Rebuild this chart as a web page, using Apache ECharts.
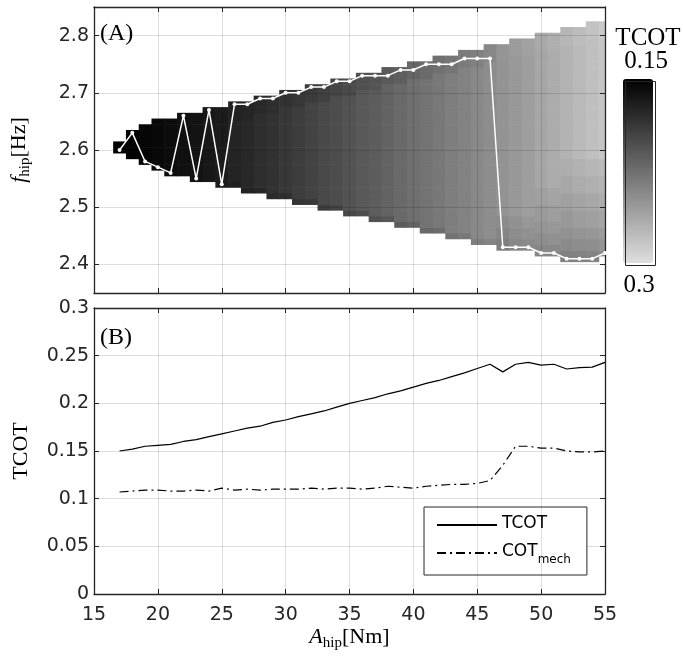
<!DOCTYPE html>
<html><head><meta charset="utf-8">
<script src="https://cdn.jsdelivr.net/npm/echarts@6/dist/echarts.min.js"></script>
<style>html,body{margin:0;padding:0;background:#fff}#c{width:683px;height:663px}</style>
</head><body><div id="c"></div>
<script>
// ---- data ----
const aHip = [17,18,19,20,21,22,23,24,25,26,27,28,29,30,31,32,33,34,35,36,37,38,39,40,41,42,43,44,45,46,47,48,49,50,51,52,53,54,55];
// optimal hip frequency (white line, panel A)
const fOpt = [2.60,2.63,2.58,2.57,2.56,2.66,2.55,2.67,2.54,2.68,2.68,2.69,2.69,2.70,2.70,2.71,2.71,2.72,2.72,2.73,2.73,2.73,2.74,2.74,2.75,2.75,2.75,2.76,2.76,2.76,2.43,2.43,2.43,2.42,2.42,2.41,2.41,2.41,2.42];
// panel B
const tcotMin = [0.150,0.152,0.155,0.156,0.157,0.160,0.162,0.165,0.168,0.171,0.174,0.176,0.180,0.1825,0.186,0.189,0.192,0.196,0.200,0.203,0.206,0.210,0.213,0.217,0.221,0.224,0.228,0.232,0.2365,0.241,0.233,0.241,0.243,0.240,0.241,0.236,0.2375,0.238,0.243];
const cotMech = [0.107,0.108,0.109,0.109,0.108,0.108,0.109,0.108,0.111,0.109,0.110,0.109,0.110,0.110,0.110,0.111,0.110,0.111,0.111,0.110,0.111,0.113,0.112,0.111,0.113,0.114,0.115,0.115,0.116,0.119,0.135,0.155,0.155,0.153,0.153,0.150,0.149,0.149,0.150];
// feasible frequency range per column (cell centres, Hz)
const fLow  = [2.60,2.59,2.58,2.57,2.56,2.56,2.55,2.55,2.54,2.54,2.53,2.53,2.52,2.52,2.51,2.51,2.50,2.50,2.49,2.49,2.48,2.48,2.47,2.47,2.46,2.46,2.45,2.45,2.44,2.44,2.43,2.43,2.43,2.42,2.42,2.41,2.41,2.41,2.42];
const fHigh = [2.61,2.63,2.64,2.65,2.65,2.66,2.66,2.67,2.67,2.68,2.68,2.69,2.69,2.70,2.70,2.71,2.71,2.72,2.72,2.73,2.73,2.74,2.74,2.75,2.75,2.76,2.76,2.77,2.77,2.78,2.78,2.79,2.79,2.80,2.80,2.81,2.81,2.82,2.82];
// TCOT per column, bottom to top: [cells, value]; 0 cells = rest of the column
const cellRuns = [
  [[0,0.150]],
  [[0,0.152]],
  [[0,0.154]],
  [[0,0.156]],
  [[0,0.158]],
  [[0,0.161]],
  [[0,0.163]],
  [[0,0.166]],
  [[0,0.169]],
  [[1,0.171],[0,0.174],[3,0.172]],
  [[1,0.173],[0,0.177],[3,0.175]],
  [[1,0.176],[0,0.181],[3,0.178]],
  [[1,0.179],[0,0.184],[3,0.181]],
  [[1,0.182],[0,0.188],[3,0.184]],
  [[1,0.185],[0,0.191],[3,0.187]],
  [[1,0.188],[0,0.195],[3,0.190]],
  [[1,0.191],[0,0.199],[3,0.194]],
  [[1,0.195],[0,0.202],[3,0.197]],
  [[1,0.198],[0,0.206],[3,0.201]],
  [[1,0.202],[0,0.210],[3,0.204]],
  [[1,0.205],[0,0.213],[3,0.207]],
  [[1,0.209],[0,0.217],[3,0.211]],
  [[1,0.212],[0,0.221],[3,0.214]],
  [[1,0.216],[0,0.225],[3,0.218]],
  [[1,0.220],[0,0.228],[3,0.222]],
  [[1,0.223],[0,0.231],[3,0.226]],
  [[1,0.227],[0,0.235],[3,0.229]],
  [[1,0.231],[0,0.238],[3,0.233]],
  [[1,0.235],[0,0.242],[3,0.237]],
  [[1,0.239],[0,0.245],[3,0.241]],
  [[2,0.235],[2,0.240],[2,0.244],[0,0.249],[3,0.251]],
  [[2,0.242],[2,0.245],[2,0.248],[0,0.253],[3,0.255]],
  [[2,0.244],[2,0.248],[2,0.252],[0,0.257],[3,0.259]],
  [[2,0.241],[2,0.246],[2,0.250],[3,0.254],[3,0.258],[0,0.262],[3,0.264]],
  [[2,0.242],[2,0.248],[2,0.252],[3,0.257],[3,0.261],[0,0.266],[3,0.268]],
  [[2,0.237],[2,0.243],[2,0.248],[3,0.253],[3,0.258],[3,0.263],[3,0.267],[0,0.271],[3,0.273]],
  [[2,0.238],[2,0.245],[2,0.250],[3,0.256],[3,0.261],[3,0.266],[3,0.270],[0,0.275],[3,0.277]],
  [[2,0.239],[2,0.246],[2,0.252],[3,0.258],[3,0.263],[3,0.268],[3,0.273],[0,0.279],[3,0.281]],
  [[1,0.243],[2,0.249],[2,0.255],[3,0.261],[3,0.266],[3,0.271],[3,0.276],[0,0.283],[3,0.286]]
];
const colorbarLabels = ['TCOT', '0.15', '0.3'];

// ---- build heatmap cells ----
const cells = [];
aHip.forEach((a, i) => {
  const lo = fLow[i], hi = fHigh[i];
  const n = Math.round((hi - lo) / 0.01) + 1;
  const runs = cellRuns[i];
  const fixed = runs.reduce((s, r) => s + r[0], 0);
  let k = 0;
  runs.forEach(r => {
    const cnt = r[0] === 0 ? Math.max(0, n - fixed) : r[0];
    for (let j = 0; j < cnt && k < n; j++) {
      cells.push([a, +(lo + k * 0.01).toFixed(2), r[1]]);
      k++;
    }
  });
});

const AX = '#262626';
const GRIDC = 'rgba(0,0,0,0.13)';
const tickFont = { fontFamily: 'DejaVu Sans', fontSize: 19, color: AX };
const serif = 'Liberation Serif';

function mainX(gi, showLabels, extra) {
  return Object.assign({
    gridIndex: gi, type: 'value', min: 15, max: 55, interval: 5, position: 'bottom',
    axisLine: { show: true, onZero: false, lineStyle: { color: AX, width: 1.3 } },
    axisTick: { show: true, inside: true, length: 5, lineStyle: { color: AX } },
    axisLabel: Object.assign({ show: showLabels, margin: 12 }, tickFont),
    splitLine: { show: true, lineStyle: { color: GRIDC, width: 1 } },
    z: 5
  }, extra || {});
}
function secX(gi) {
  return {
    gridIndex: gi, type: 'value', min: 15, max: 55, interval: 5, position: 'top',
    axisLine: { show: true, onZero: false, lineStyle: { color: AX, width: 1.3 } },
    axisTick: { show: true, inside: true, length: 5, lineStyle: { color: AX } },
    axisLabel: { show: false }, splitLine: { show: false }, z: 5
  };
}
const nameRich = {
  i: { fontFamily: serif, fontStyle: 'italic', fontSize: 22, color: '#000', verticalAlign: 'top', lineHeight: 24 },
  s: { fontFamily: serif, fontSize: 15, color: '#000', verticalAlign: 'top', lineHeight: 15, padding: [10, 0, 0, 0] },
  n: { fontFamily: serif, fontSize: 22, color: '#000', verticalAlign: 'top', lineHeight: 24 }
};

const option = {
  animation: false,
  backgroundColor: '#fff',
  grid: [
    { left: 94, top: 7, width: 511, height: 286 },
    { left: 94, top: 308, width: 511, height: 286 }
  ],
  xAxis: [
    mainX(0, false),
    secX(0),
    mainX(1, true, {
      name: '{i|A}{s|hip}{n|[Nm]}', nameLocation: 'middle', nameGap: 30,
      nameTextStyle: { rich: nameRich }
    }),
    secX(1)
  ],
  yAxis: [
    {
      gridIndex: 0, type: 'value', min: 2.35, max: 2.85, splitNumber: 5,
      axisLine: { show: true, onZero: false, lineStyle: { color: AX, width: 1.3 } },
      axisTick: { show: true, inside: true, length: 5, lineStyle: { color: AX } },
      axisLabel: Object.assign({ margin: 5, showMinLabel: false, showMaxLabel: false,
        formatter: v => v.toFixed(1) }, tickFont),
      splitLine: { show: true, lineStyle: { color: GRIDC, width: 1 } },
      name: '{i|f}{s|hip}{n|[Hz]}', nameLocation: 'middle', nameGap: 62, nameRotate: 90,
      nameTextStyle: { rich: nameRich },
      z: 5
    },
    {
      gridIndex: 0, type: 'value', min: 2.35, max: 2.85, splitNumber: 5, position: 'right',
      axisLine: { show: true, onZero: false, lineStyle: { color: AX, width: 1.3 } },
      axisTick: { show: true, inside: true, length: 5, lineStyle: { color: AX } },
      axisLabel: { show: false }, splitLine: { show: false }, z: 5
    },
    {
      gridIndex: 1, type: 'value', min: 0, max: 0.3, interval: 0.05,
      axisLine: { show: true, onZero: false, lineStyle: { color: AX, width: 1.3 } },
      axisTick: { show: true, inside: true, length: 5, lineStyle: { color: AX } },
      axisLabel: Object.assign({ margin: 5 }, tickFont),
      splitLine: { show: true, lineStyle: { color: GRIDC, width: 1 } },
      name: 'TCOT', nameLocation: 'middle', nameGap: 62, nameRotate: 90,
      nameTextStyle: { fontFamily: serif, fontSize: 22, color: '#000' }
    },
    {
      gridIndex: 1, type: 'value', min: 0, max: 0.3, interval: 0.05, position: 'right',
      axisLine: { show: true, onZero: false, lineStyle: { color: AX, width: 1.3 } },
      axisTick: { show: true, inside: true, length: 5, lineStyle: { color: AX } },
      axisLabel: { show: false }, splitLine: { show: false }
    }
  ],
  visualMap: {
    type: 'continuous', min: 0.15, max: 0.3, inverse: true, calculable: false,
    seriesIndex: 0, dimension: 2, left: 623, top: 79, itemWidth: 30, itemHeight: 184,
    padding: 0, hoverLink: false,
    inRange: { color: ['#000000', '#dedede'] },
    textStyle: { color: 'transparent' }
  },
  legend: {
    left: 424, top: 507, orient: 'vertical',
    backgroundColor: '#fff', borderColor: AX, borderWidth: 1, borderRadius: 0,
    padding: [8, 16, 9, 12], itemWidth: 60, itemHeight: 14, itemGap: 11,
    itemStyle: { opacity: 0 },
    textStyle: {
      color: '#000',
      rich: {
        m: { fontFamily: 'DejaVu Sans', fontSize: 17, color: '#000', verticalAlign: 'top', lineHeight: 20 },
        s: { fontFamily: 'DejaVu Sans', fontSize: 12, color: '#000', verticalAlign: 'top', lineHeight: 12, padding: [11, 0, 0, 0] }
      }
    },
    formatter: name => name === 'COT_mech' ? '{m|COT}{s|mech}' : '{m|TCOT}',
    data: ['TCOT', 'COT_mech']
  },
  graphic: [
    { type: 'rect', left: 623, top: 79, shape: { width: 30, height: 184 },
      style: { fill: 'none', stroke: AX, lineWidth: 1 }, z: 100 },
    { type: 'text', x: 648, y: 38, style: { text: colorbarLabels[0], font: '25px "Liberation Serif"', fill: '#000', textAlign: 'center', textVerticalAlign: 'middle' } },
    { type: 'text', x: 646, y: 61, style: { text: colorbarLabels[1], font: '25px "Liberation Serif"', fill: '#000', textAlign: 'center', textVerticalAlign: 'middle' } },
    { type: 'text', x: 639, y: 285, style: { text: colorbarLabels[2], font: '25px "Liberation Serif"', fill: '#000', textAlign: 'center', textVerticalAlign: 'middle' } },
    { type: 'text', x: 100, y: 34, z: 100, style: { text: '(A)', font: '24px "Liberation Serif"', fill: '#000', textAlign: 'left', textVerticalAlign: 'middle' } },
    { type: 'text', x: 100, y: 338, z: 100, style: { text: '(B)', font: '24px "Liberation Serif"', fill: '#000', textAlign: 'left', textVerticalAlign: 'middle' } }
  ],
  series: [
    {
      type: 'custom', name: 'map', xAxisIndex: 0, yAxisIndex: 0, data: cells, clip: true, z: 1,
      encode: { x: 0, y: 1 },
      renderItem: (params, api) => {
        const a = api.value(0), f = api.value(1);
        const p0 = api.coord([a - 0.5, f + 0.005]);
        const p1 = api.coord([a + 0.5, f - 0.005]);
        return {
          type: 'rect',
          shape: { x: p0[0], y: p0[1], width: p1[0] - p0[0] + 0.6, height: p1[1] - p0[1] + 0.6 },
          style: { fill: api.visual('color') }
        };
      }
    },
    {
      type: 'line', name: 'fopt', xAxisIndex: 0, yAxisIndex: 0, z: 10,
      data: aHip.map((a, i) => [a, fOpt[i]]),
      symbol: 'circle', symbolSize: 4, showSymbol: true,
      lineStyle: { color: '#fff', width: 1.5 }, itemStyle: { color: '#fff' }
    },
    {
      type: 'line', name: 'TCOT', xAxisIndex: 2, yAxisIndex: 2,
      data: aHip.map((a, i) => [a, tcotMin[i]]), symbol: 'none',
      lineStyle: { color: '#000', width: 1.2 }, itemStyle: { color: '#000' }
    },
    {
      type: 'line', name: 'COT_mech', xAxisIndex: 2, yAxisIndex: 2,
      data: aHip.map((a, i) => [a, cotMech[i]]), symbol: 'none',
      lineStyle: { color: '#000', width: 1.2, type: [9, 4, 2, 4] }, itemStyle: { color: '#000' }
    }
  ]
};

const chart = echarts.init(document.getElementById('c'), null, { renderer: 'canvas' });
chart.setOption(option);
</script>
</body></html>
